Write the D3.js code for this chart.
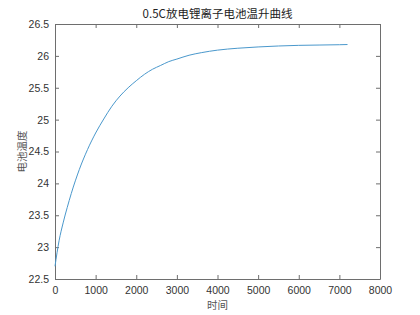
<!DOCTYPE html>
<html><head><meta charset="utf-8">
<script src="https://cdn.jsdelivr.net/npm/d3@7/dist/d3.min.js"></script>
<style>html,body{margin:0;padding:0;background:#fff;}svg{display:block;}</style>
</head><body>
<script>
const titleText = "0.5C放电锂离子电池温升曲线";
const xLabel = "时间";
const yLabel = "电池温度";
const timeS = [0,100,200,300,400,600,800,1000,1200,1400,1600,1800,2000,2200,2400,2600,2800,3000,3300,3600,4000,4500,5000,5500,6000,6500,7000,7200];
const tempC = [22.70,23.10,23.38,23.62,23.84,24.22,24.53,24.79,25.01,25.21,25.37,25.50,25.61,25.71,25.79,25.85,25.91,25.95,26.01,26.05,26.09,26.12,26.14,26.155,26.165,26.17,26.175,26.178];
const xTicks = [0,1000,2000,3000,4000,5000,6000,7000,8000];
const yTicks = [22.5,23,23.5,24,24.5,25,25.5,26,26.5];

const W = 420, H = 315;
const m = {left:55, right:40, top:24, bottom:36};
const svg = d3.select("body").append("svg").attr("width",W).attr("height",H);
const x = d3.scaleLinear().domain([0,8000]).range([m.left, W-m.right]);
const y = d3.scaleLinear().domain([22.5,26.5]).range([H-m.bottom, m.top]);
const axisColor = "#6e6e6e";
const font = "'Liberation Sans', Arial, sans-serif";
const cjk = "'Noto Sans CJK SC', sans-serif";

svg.append("rect").attr("x",x(0)).attr("y",y(26.5)).attr("width",x(8000)-x(0)).attr("height",y(22.5)-y(26.5)).attr("fill","#fff");

function styleAxis(g){
  g.selectAll("path.domain").attr("stroke",axisColor);
  g.selectAll(".tick line").attr("stroke",axisColor);
  g.selectAll("text").attr("fill","#333").style("font-family",font).style("font-size","10.5px");
}
const gx = svg.append("g").attr("transform",`translate(0,${y(22.5)})`)
  .call(d3.axisBottom(x).tickValues(xTicks).tickFormat(d3.format("d")).tickSizeInner(-4).tickSizeOuter(0).tickPadding(8));
styleAxis(gx);
const gxt = svg.append("g").attr("transform",`translate(0,${y(26.5)})`)
  .call(d3.axisTop(x).tickValues(xTicks).tickFormat("").tickSizeInner(-4).tickSizeOuter(0));
styleAxis(gxt);
const gy = svg.append("g").attr("transform",`translate(${x(0)},0)`)
  .call(d3.axisLeft(y).tickValues(yTicks).tickFormat(d=>String(d)).tickSizeInner(-4).tickSizeOuter(0).tickPadding(6));
styleAxis(gy);
const gyr = svg.append("g").attr("transform",`translate(${x(8000)},0)`)
  .call(d3.axisRight(y).tickValues(yTicks).tickFormat("").tickSizeInner(-4).tickSizeOuter(0));
styleAxis(gyr);

svg.append("path").datum(timeS.map((t,i)=>[t,tempC[i]]))
  .attr("fill","none").attr("stroke","#4a98cc").attr("stroke-width",1)
  .attr("d", d3.line().x(d=>x(d[0])).y(d=>y(d[1])).curve(d3.curveMonotoneX));

svg.append("text").attr("x",(x(0)+x(8000))/2).attr("y",18).attr("text-anchor","middle")
  .style("font-family",cjk).style("font-size","11.5px").attr("fill","#222").text(titleText);
svg.append("text").attr("x",(x(0)+x(8000))/2).attr("y",309).attr("text-anchor","middle")
  .style("font-family",cjk).style("font-size","10.5px").attr("fill","#555").text(xLabel);
svg.append("text").attr("transform",`translate(26,${(y(22.5)+y(26.5))/2}) rotate(-90)`).attr("text-anchor","middle")
  .style("font-family",cjk).style("font-size","10.5px").attr("fill","#555").text(yLabel);
</script>
</body></html>
